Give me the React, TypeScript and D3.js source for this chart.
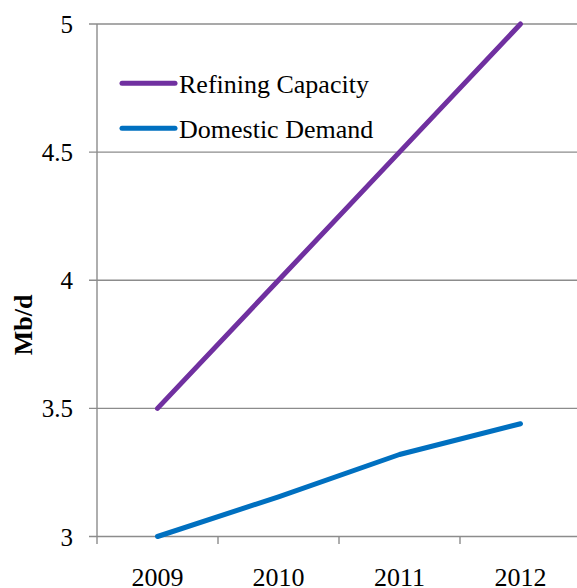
import React from "react";
import * as d3 from "d3";

const years = ["2009", "2010", "2011", "2012"];
const refiningCapacity = [3.5, 4.0, 4.5, 5.0];
const domesticDemand = [3.0, 3.155, 3.32, 3.44];
const yTicks = [3, 3.5, 4, 4.5, 5];
const seriesNames = ["Refining Capacity", "Domestic Demand"];
const seriesColors = ["#7030A0", "#0070C0"];

export default function App() {
  const W = 577, H = 588;
  const left = 97, right = 581, top = 24, bottom = 536.5;
  const x = d3.scaleBand<string>().domain(years).range([left, right]);
  const y = d3.scaleLinear().domain([3, 5]).range([bottom, top]);
  const line = d3
    .line<number>()
    .x((_, i) => (x(years[i]) as number) + x.bandwidth() / 2)
    .y((d) => y(d));
  const series = [refiningCapacity, domesticDemand];
  const grid = "#8c8c8c";
  const tf = { fontFamily: "'Liberation Serif', 'Times New Roman', serif" };
  const boundaries = years.map((yr) => x(yr) as number).concat([right]);
  return (
    <svg width={W} height={H} style={{ position: "absolute", left: 0, top: 0 }}>
      <rect width={W} height={H} fill="#fff" />
      {yTicks.map((t) => (
        <g key={t}>
          <line x1={89} x2={W} y1={y(t)} y2={y(t)} stroke={grid} strokeWidth={1.4} />
          <text x={73} y={y(t) + 9} textAnchor="end" fontSize={25} style={tf}>
            {t}
          </text>
        </g>
      ))}
      <line x1={left} x2={left} y1={top} y2={544} stroke={grid} strokeWidth={1.4} />
      {boundaries.slice(1).map((b, i) => (
        <line key={i} x1={b} x2={b} y1={bottom} y2={544} stroke={grid} strokeWidth={1.4} />
      ))}
      {years.map((yr) => (
        <text key={yr} x={(x(yr) as number) + x.bandwidth() / 2} y={585.5} textAnchor="middle" fontSize={26} style={tf}>
          {yr}
        </text>
      ))}
      <text transform="translate(32,325) rotate(-90)" textAnchor="middle" fontSize={26} fontWeight="bold" style={tf}>
        Mb/d
      </text>
      {series.map((s, i) => (
        <path key={i} d={line(s) || ""} fill="none" stroke={seriesColors[i]} strokeWidth={5} strokeLinecap="round" strokeLinejoin="round" />
      ))}
      {seriesNames.map((n, i) => (
        <g key={n}>
          <line x1={122} x2={175} y1={83.3 + i * 45} y2={83.3 + i * 45} stroke={seriesColors[i]} strokeWidth={5} strokeLinecap="round" />
          <text x={179} y={92.5 + i * 45} fontSize={26} style={tf}>
            {n}
          </text>
        </g>
      ))}
    </svg>
  );
}
